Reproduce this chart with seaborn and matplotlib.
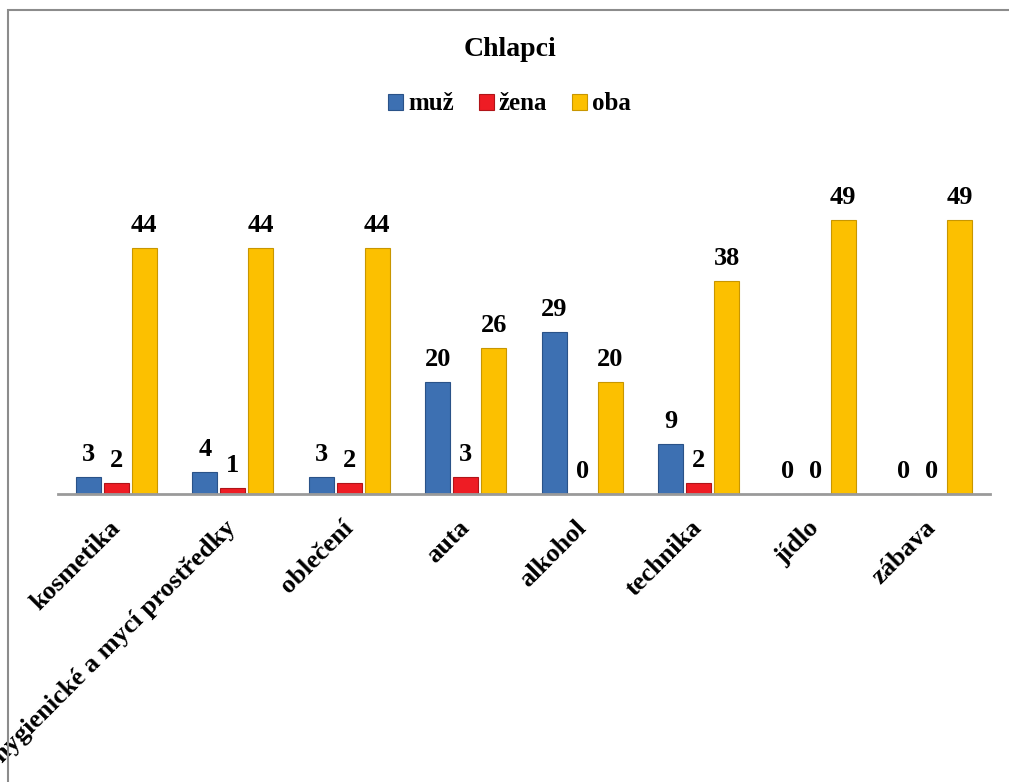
import numpy as np
import pandas as pd
import matplotlib
matplotlib.use('Agg')
import matplotlib.pyplot as plt
from matplotlib.patches import Patch, Rectangle
import seaborn as sns

# data
kategorie = ['kosmetika', 'hygienické a mycí prostředky', 'oblečení', 'auta',
             'alkohol', 'technika', 'jídlo', 'zábava']
muz = [3, 4, 3, 20, 29, 9, 0, 0]
zena = [2, 1, 2, 3, 0, 2, 0, 0]
oba = [44, 44, 44, 26, 20, 38, 49, 49]
skupiny = ['muž', 'žena', 'oba']
barvy = ['#3D70B2', '#EE1C24', '#FCC000']

df = pd.DataFrame({
    'kategorie': kategorie * 3,
    'skupina': np.repeat(skupiny, len(kategorie)),
    'hodnota': muz + zena + oba,
})

sns.set_style('white')
plt.rcParams['font.family'] = ['Liberation Serif', 'DejaVu Serif']
plt.rcParams['font.weight'] = 'bold'
plt.rcParams['text.color'] = 'black'
plt.rcParams['xtick.color'] = 'black'

fig = plt.figure(figsize=(10.09, 7.82), dpi=100)
ax = fig.add_axes([58/1009, 288/782, 932/1009, (494-147)/782])

sns.barplot(data=df, x='kategorie', y='hodnota', hue='skupina', order=kategorie,
            hue_order=skupiny, palette=barvy, saturation=1, width=0.72, gap=0.12,
            edgecolor='none', legend=False, ax=ax)

edges = ['#2A5288', '#B01418', '#C89600']
for cont, ec in zip(ax.containers, edges):
    for p in cont:
        p.set_edgecolor(ec)
        p.set_linewidth(0.8)
    ax.bar_label(cont, fmt='%d', padding=8, fontsize=19, fontweight='bold',
                 color='black')

ax.set_ylim(0, 62)
ax.set_xlim(-0.5, len(kategorie) - 0.5)
ax.set_xlabel('')
ax.set_ylabel('')
ax.set_yticks([])
ax.set_xticks(range(len(kategorie)))
ax.set_xticklabels(kategorie, rotation=45, ha='right', va='center',
                   rotation_mode='anchor', fontsize=19, fontweight='bold')
ax.tick_params(axis='x', length=0, pad=22, colors='black')
for s in ['top', 'right', 'left']:
    ax.spines[s].set_visible(False)
ax.spines['bottom'].set_color('#9A9A9A')
ax.spines['bottom'].set_linewidth(2)

fig.text(0.505, 1 - 50/782, 'Chlapci', ha='center', va='center',
         fontsize=20, fontweight='bold', color='black')

handles = [Patch(facecolor=c, edgecolor=e, linewidth=0.8) for c, e in zip(barvy, edges)]
fig.legend(handles, skupiny, loc='center', bbox_to_anchor=(0.505, 1 - 104/782),
           ncol=3, frameon=False, handlelength=0.6, handleheight=0.6,
           handletextpad=0.2, columnspacing=1.0,
           prop={'size': 18, 'weight': 'bold'})

# outer chart frame
fig.patches.append(Rectangle((8/1009, -0.1), 1.2, 1.1 - 10/782, transform=fig.transFigure,
                             fill=False, edgecolor='#8C8C8C', linewidth=1.5))

fig.savefig('out.png', dpi=100)
